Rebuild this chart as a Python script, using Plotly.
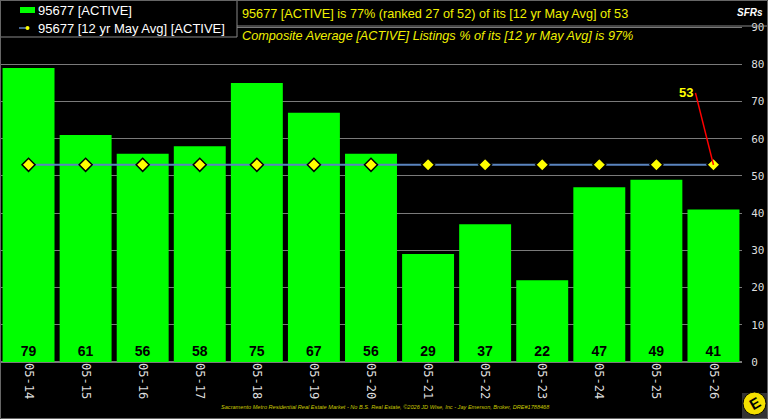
import plotly.graph_objects as go

categories = ["05-14", "05-15", "05-16", "05-17", "05-18", "05-19", "05-20",
              "05-21", "05-22", "05-23", "05-24", "05-25", "05-26"]
active = [79, 61, 56, 58, 75, 67, 56, 29, 37, 22, 47, 49, 41]
avg12 = [53] * 13
y_ticks = [0, 10, 20, 30, 40, 50, 60, 70, 80, 90]

W, H = 768, 419
L, R, T, B = 0, 26, 0, 57
PW, PH = W - L - R, H - T - B


def px(x):
    return (x - L) / PW


def py(y):
    return 1 - (y - T) / PH


fig = go.Figure()
fig.add_trace(go.Bar(
    x=categories, y=active, name="95677 [ACTIVE]",
    marker=dict(color="#00ff00", line=dict(width=0)),
    text=[str(v) for v in active], textposition="inside",
    insidetextanchor="start", textangle=0,
    textfont=dict(family="Arial", size=14, color="#000000", weight="bold"),
))
fig.add_trace(go.Scatter(
    x=categories, y=avg12, name="95677 [12 yr May Avg] [ACTIVE]",
    mode="lines+markers",
    line=dict(color="#5a84bf", width=2),
    marker=dict(symbol="diamond", size=10, color="#ffff00",
                line=dict(color="#000000", width=1.5)),
))

fig.update_layout(
    width=W, height=H,
    margin=dict(l=L, r=R, t=T, b=B, autoexpand=False),
    paper_bgcolor="#000000", plot_bgcolor="#000000",
    bargap=0.09,
    showlegend=False,
    xaxis=dict(type="category", range=[-0.5, 12.5], tickangle=90, showgrid=False,
               automargin=False,
               tickfont=dict(family="DejaVu Sans Mono", size=12, color="#dddddd"),
               ticks="", showline=False, zeroline=False),
    yaxis=dict(side="right", range=[0, 97.3], tickvals=y_ticks, automargin=False,
               showgrid=True, gridcolor="#7a7a7a", gridwidth=1,
               zeroline=True, zerolinecolor="#7a7a7a",
               tickfont=dict(family="DejaVu Sans Mono", size=11, color="#dddddd"),
               ticks="outside", ticklen=6, tickcolor="#000000"),
)

grey = "#888888"
ylw = "#f0f000"

# manual legend box
fig.add_shape(type="rect", xref="paper", yref="paper",
              x0=px(0.5), x1=px(237), y0=py(37), y1=py(0.5),
              fillcolor="#000000", line=dict(color=grey, width=1))
fig.add_shape(type="rect", xref="paper", yref="paper",
              x0=px(20), x1=px(35), y0=py(13), y1=py(7),
              fillcolor="#00ff00", line=dict(width=0))
fig.add_shape(type="line", xref="paper", yref="paper",
              x0=px(19), x1=px(36), y0=py(28), y1=py(28),
              line=dict(color="#5a84bf", width=1.5, dash="dash"))
fig.add_shape(type="circle", xref="paper", yref="paper",
              x0=px(25.5), x1=px(29.5), y0=py(30), y1=py(26),
              fillcolor="#ffff00", line=dict(width=0))
fig.add_annotation(xref="paper", yref="paper", x=px(36), y=py(10),
                   xanchor="left", yanchor="middle", showarrow=False,
                   text="95677 [ACTIVE]",
                   font=dict(family="Arial", size=13, color="#ffffff"))
fig.add_annotation(xref="paper", yref="paper", x=px(36), y=py(28),
                   xanchor="left", yanchor="middle", showarrow=False,
                   text="95677 [12 yr May Avg] [ACTIVE]",
                   font=dict(family="Arial", size=13, color="#ffffff"))

# title lines
fig.add_annotation(xref="paper", yref="paper", x=px(240), y=py(14),
                   xanchor="left", yanchor="middle", showarrow=False,
                   text="95677 [ACTIVE] is 77% (ranked 27 of 52) of its [12 yr May Avg] of 53",
                   font=dict(family="Arial", size=12.7, color=ylw))
fig.add_annotation(xref="paper", yref="paper", x=px(240), y=py(36),
                   xanchor="left", yanchor="middle", showarrow=False,
                   text="<i>Composite Average [ACTIVE] Listings % of its [12 yr May Avg] is 97%</i>",
                   font=dict(family="Arial", size=12.7, color=ylw))
fig.add_shape(type="line", xref="paper", yref="paper",
              x0=px(237), x1=px(768), y0=py(26), y1=py(26),
              line=dict(color=grey, width=1))

# 53 callout
fig.add_annotation(x=categories[-1], y=avg12[-1], text="<b>53</b>",
                   showarrow=True, arrowhead=0, arrowwidth=1.5, arrowcolor="#ff0000",
                   ax=-18, ay=-72, xanchor="right",
                   font=dict(family="Arial", size=13, color="#ffff00"))

# SFRs
fig.add_annotation(xref="paper", yref="paper", x=px(765), y=py(12),
                   xanchor="right", yanchor="middle", showarrow=False,
                   text="<b><i>SFRs</i></b>",
                   font=dict(family="Arial", size=10, color="#ffffff"))

# footer
fig.add_annotation(xref="paper", yref="paper", x=px(385), y=py(407),
                   xanchor="center", yanchor="middle", showarrow=False,
                   text="<i>Sacramento Metro Residential Real Estate Market - No B.S. Real Estate, ©2026 JD Wise, Inc - Jay Emerson, Broker, DRE#1788468</i>",
                   font=dict(family="Arial", size=5.6, color="#c8c800"))

# logo
fig.add_shape(type="rect", xref="paper", yref="paper", layer="below",
              x0=px(742), x1=px(768), y0=py(419), y1=py(393),
              fillcolor="#333333", line=dict(width=0))
fig.add_shape(type="circle", xref="paper", yref="paper", layer="below",
              x0=px(743), x1=px(766), y0=py(415), y1=py(392),
              fillcolor="#f5e000", line=dict(color="#000000", width=1))
fig.add_annotation(xref="paper", yref="paper", x=px(754.5), y=py(403.5),
                   xanchor="center", yanchor="middle",
                   showarrow=False, text="<b>E</b>", textangle=-30,
                   font=dict(family="Arial", size=15, color="#000000"))

# outer border
fig.add_shape(type="rect", xref="paper", yref="paper",
              x0=px(0.5), x1=px(767.5), y0=py(418.5), y1=py(0.5),
              line=dict(color="#666666", width=1))

fig.write_html("out.html")
